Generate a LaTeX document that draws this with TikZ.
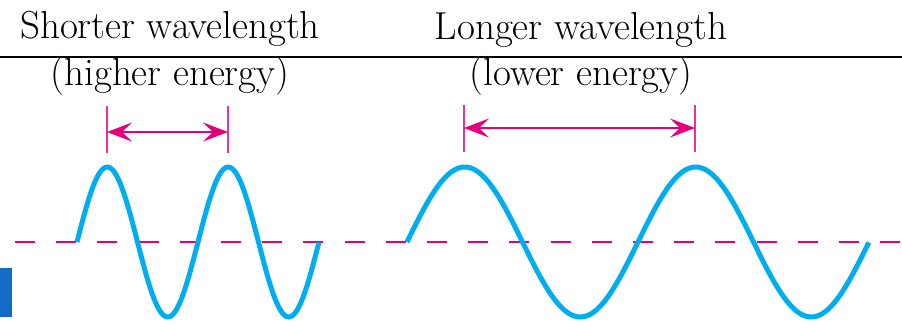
\documentclass[tikz,border=0pt]{standalone}
\usepackage{xcolor}
\usetikzlibrary{arrows.meta,positioning}
\definecolor{wavecyan}{RGB}{0,174,239}
\definecolor{wavemagenta}{RGB}{228,0,124}
\definecolor{tabblue}{RGB}{18,108,198}

\begin{document}
\begin{tikzpicture}[x=1pt, y=-1pt,
    wave/.style={draw=wavecyan, line width=5pt},
    midline/.style={draw=wavemagenta, line width=2.2pt, dash pattern=on 20pt off 21.2pt},
    peaktick/.style={draw=wavemagenta!80, line width=1.3pt},
    span/.style={draw=wavemagenta, line width=2pt,
        {Stealth[length=25pt,width=19pt,inset=10pt]}-{Stealth[length=25pt,width=19pt,inset=10pt]}},
    title/.style={font=\fontsize{39}{46}\selectfont, anchor=base}]

    \useasboundingbox (0,0) rectangle (902,327);

    % Pixel grid: 902 x 327, y grows downwards
    \def\axisY{242}
    \def\amp{75}

    % Headings and the rule under them
    \node[title] (shortT) at (170,38) {Shorter wavelength};
    \node[title] (shortE) at (170,85) {(higher energy)};
    \node[title] (longT) at (581,39) {Longer wavelength};
    \node[title] (longE) at (581,85) {(lower energy)};
    \draw[line width=2pt] (0,57) -- (902,57);

    % Blue tab at the left edge
    \fill[tabblue] (0,268) rectangle (12,317);

    % Dashed axis
    \draw[midline] (15,\axisY) -- (902,\axisY);

    % Short wave: lambda = 121
    \draw[wave] plot[domain=0:2, samples=120] ({77+121*\x}, {\axisY-\amp*sin(360*\x)});

    % Long wave: lambda = 231
    \draw[wave] plot[domain=0:2, samples=160] ({407+231*\x}, {\axisY-\amp*sin(360*\x)});

    % Short wavelength marker
    \coordinate (sa) at (107,132);
    \coordinate (sb) at (228,132);
    \draw[peaktick] (107,106) -- (107,153);
    \draw[peaktick] (228,106) -- (228,153);
    \draw[span] (sa) -- (sb);

    % Long wavelength marker
    \coordinate (la) at (464,128);
    \coordinate (lb) at (695,128);
    \draw[peaktick] (464,105) -- (464,152);
    \draw[peaktick] (695,105) -- (695,152);
    \draw[span] (la) -- (lb);
\end{tikzpicture}
\end{document}
